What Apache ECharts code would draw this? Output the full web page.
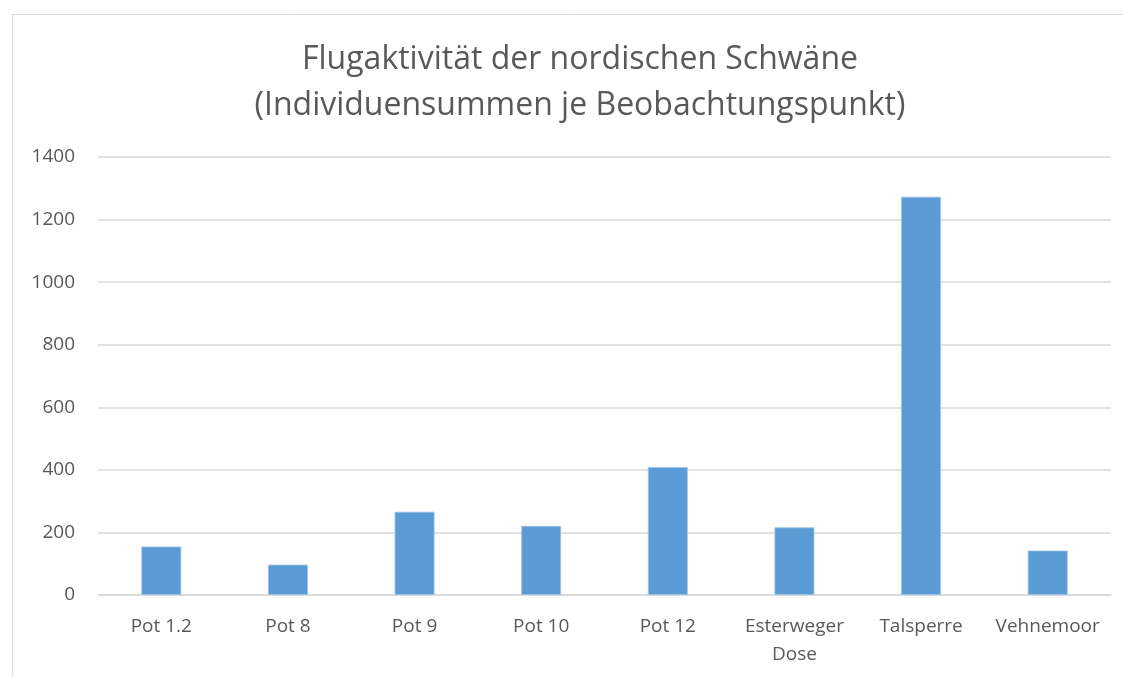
<!DOCTYPE html>
<html>
<head>
<meta charset="utf-8">
<script src="https://cdn.jsdelivr.net/npm/echarts@6/dist/echarts.min.js"></script>
<style>html,body{margin:0;padding:0;background:#fff;}#c{width:1123px;height:677px;}</style>
</head>
<body>
<div id="c"></div>
<script>
const categories = ['Pot 1.2', 'Pot 8', 'Pot 9', 'Pot 10', 'Pot 12', 'Esterweger\nDose', 'Talsperre', 'Vehnemoor'];
const values = [155, 97, 266, 221, 409, 216, 1273, 142];
const yTicks = [0, 200, 400, 600, 800, 1000, 1200, 1400];
const titleLines = ['Flugaktivität der nordischen Schwäne', '(Individuensummen je Beobachtungspunkt)'];

const chart = echarts.init(document.getElementById('c'), null, {renderer: 'canvas'});
const font = '"Open Sans", "Noto Sans", sans-serif';
chart.setOption({
  animation: false,
  backgroundColor: '#fff',
  graphic: [{
    type: 'rect', left: 10, top: 12,
    shape: {width: 1130, height: 700},
    style: {fill: 'none', stroke: '#d9d9d9', lineWidth: 1}, silent: true
  }],
  title: {
    text: titleLines.join('\n'),
    left: 575, top: 32, textAlign: 'center',
    textStyle: {fontFamily: font, fontWeight: 'normal', fontSize: 32, color: '#595959', lineHeight: 46}
  },
  grid: {left: 98, right: 12, top: 157, bottom: 82, containLabel: false},
  xAxis: {
    type: 'category', data: categories,
    axisLine: {show: true, lineStyle: {color: '#d9d9d9', width: 1.5}},
    axisTick: {show: false},
    axisLabel: {fontFamily: font, fontSize: 19, color: '#595959', margin: 18, lineHeight: 28, interval: 0}
  },
  yAxis: {
    type: 'value', min: yTicks[0], max: yTicks[yTicks.length - 1], interval: 200,
    axisLine: {show: false}, axisTick: {show: false},
    splitLine: {lineStyle: {color: '#d9d9d9', width: 1.5}},
    axisLabel: {fontFamily: font, fontSize: 19, color: '#595959', margin: 23, formatter: v => String(v)}
  },
  series: [{
    type: 'bar', data: values, barWidth: '31.5%',
    itemStyle: {color: '#5b9bd5', borderColor: '#9dc3e6', borderWidth: 0.8}
  }]
});
</script>
</body>
</html>
